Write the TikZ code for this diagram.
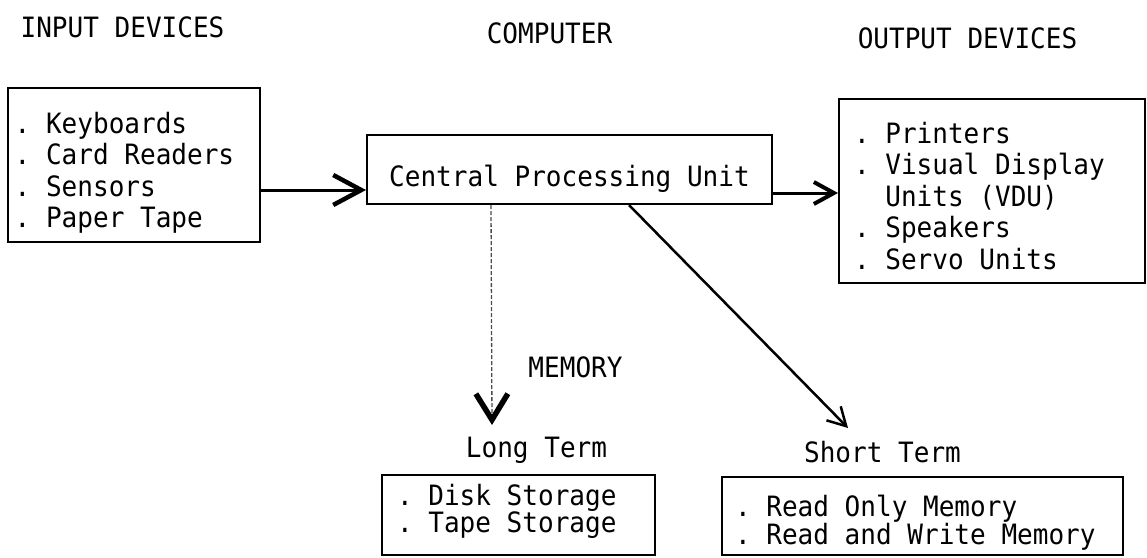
\documentclass[tikz,border=0pt]{standalone}
\usepackage{fontspec}
\setmainfont{DejaVu Sans Mono}[FakeStretch=0.93]
\usetikzlibrary{arrows.meta}
\frenchspacing
\begin{document}
\begin{tikzpicture}[x=1pt,y=-1pt,
  tw/.style={font=\fontsize{28}{31.5}\selectfont},
  twtight/.style={font=\fontsize{28}{26}\selectfont},
  box/.style={draw, line width=2pt, inner ysep=0pt, align=left,
    execute at begin node={\spaceskip=0pt\relax\xspaceskip=0pt\relax}},
  lbl/.style={inner sep=0pt, anchor=base, tw},
  bigarr/.style={line width=3pt, -{Straight Barb[length=28pt,width=30pt,line width=4.5pt]}},
  midarr/.style={line width=3pt, -{Straight Barb[length=20pt,width=22pt,line width=4pt]}},
  memline/.style={line width=1.3pt, draw=black!70, dash pattern=on 4pt off 2pt,
    -{Straight Barb[length=26pt,width=32pt,line width=5.5pt,color=black]}},
  diagarr/.style={line width=2.5pt, -{Straight Barb[length=18pt,width=20pt,line width=2.5pt]}}
]
\useasboundingbox (0,0) rectangle (1147,557);

% headers and labels
\node[lbl] (inhdr) at (122.5,37) {INPUT DEVICES};
\node[lbl] (comphdr) at (549.5,43) {COMPUTER};
\node[lbl] (outhdr) at (967.5,48) {OUTPUT DEVICES};
\node[lbl] (memlbl) at (575.5,377) {MEMORY};
\node[lbl] (ltlbl) at (536.5,457) {Long Term};
\node[lbl] (stlbl) at (882.5,462) {Short Term};

% boxes
\node[box, tw, minimum width=252pt, minimum height=154pt, inner xsep=6.7pt,
      text width=238.6pt, text height=0pt, text depth=64pt] (inbox) at (134,165)
  {. Keyboards\\. Card Readers\\. Sensors\\. Paper Tape};

\node[box, tw, align=center, minimum width=405pt, minimum height=69pt, inner xsep=0pt,
      text height=33pt, text depth=0pt] (cpu) at (569.5,169.5)
  {Central Processing Unit};

\node[box, tw, minimum width=306pt, minimum height=184pt, inner xsep=15pt,
      text width=276pt, text height=0pt, text depth=96pt] (outbox) at (992,191)
  {. Printers\\. Visual Display\\\hphantom{.\ }Units (VDU)\\. Speakers\\. Servo Units};

\node[box, twtight, minimum width=273pt, minimum height=80pt, inner xsep=15pt,
      text width=243pt, text height=0pt, text depth=20pt] (ltbox) at (518.5,515)
  {. Disk Storage\\. Tape Storage};

\node[box, twtight, minimum width=401pt, minimum height=78pt, inner xsep=13pt,
      text width=375pt, text height=0pt, text depth=0pt] (stbox) at (922.5,516)
  {. Read Only Memory\\. Read and Write Memory};

% connectors
\coordinate (cpuIn) at ([yshift=-20.5pt]cpu.west);
\draw[bigarr] (cpuIn -| inbox.east) -- (cpuIn);

\coordinate (outIn) at ([yshift=-2pt]outbox.west);
\draw[midarr] (outIn -| cpu.east) -- (outIn);

\coordinate (memTop) at ([xshift=125pt]cpu.south west);
\coordinate (memTip) at (492,425);
\draw[memline] (memTop) -- (memTip);

\coordinate (stTop) at ([xshift=263pt]cpu.south west);
\coordinate (stTip) at (848,428);
\draw[diagarr] (stTop) -- (stTip);
\end{tikzpicture}
\end{document}
